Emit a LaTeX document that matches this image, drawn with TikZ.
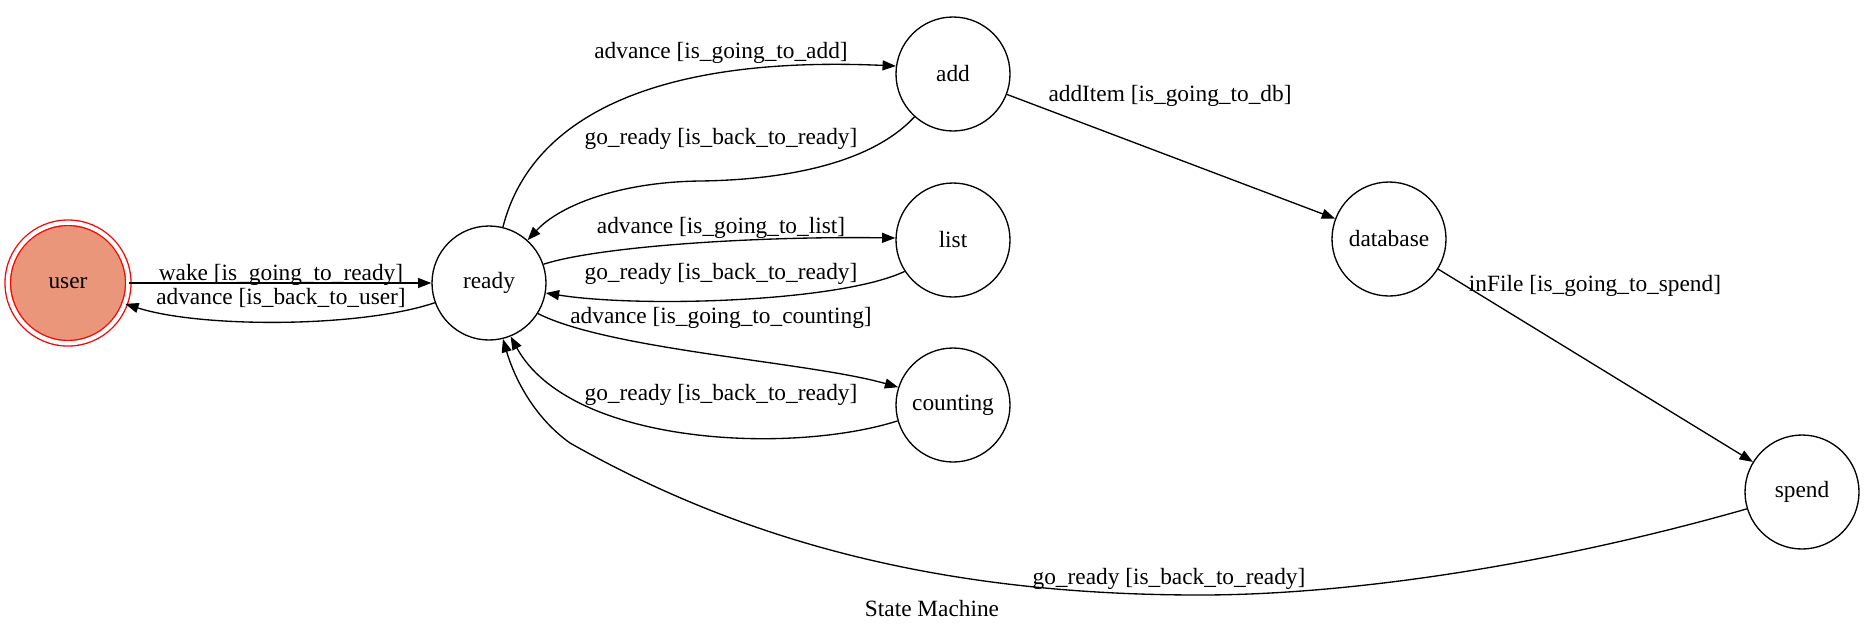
\documentclass[tikz,border=0pt]{standalone}
\usepackage{fontspec}
\setmainfont{Liberation Serif}
\usetikzlibrary{arrows.meta}
\definecolor{usercolor}{RGB}{233, 150, 122}

\begin{document}
\begin{tikzpicture}[
    x=0.6pt, y=-0.6pt,
    state/.style={draw, circle, line width=0.8pt, minimum size=68.4pt, inner sep=1pt, font=\fontsize{14}{17}\selectfont},
    startstate/.style={state, draw=red, fill=usercolor, double=white, double distance=2.5pt, minimum size=72.3pt},
    arrow/.style={-{Triangle[length=8pt, width=6pt]}, line width=0.8pt},
    edgelabel/.style={anchor=base, inner sep=0pt, font=\fontsize{14}{17}\selectfont}
]
\useasboundingbox (0, 0) rectangle (1864, 632);

% States
\node[startstate] (user) at (68, 283) {user};
\node[state] (ready) at (489, 283) {ready};
\node[state] (add) at (953, 74) {add};
\node[state] (list) at (953, 240) {list};
\node[state] (counting) at (953, 405) {counting};
\node[state] (database) at (1389, 239) {database};
\node[state] (spend) at (1802, 492) {spend};

% Transitions
\draw[arrow] (user) -- (ready)
    node[edgelabel] at (281, 280) {wake [is\_going\_to\_ready]};
\draw[arrow] (ready.200) .. controls (360, 328) and (200, 328) .. (user.-20)
    node[edgelabel] at (281, 304) {advance [is\_back\_to\_user]};

\draw[arrow] (ready.76) .. controls (530, 120) and (650, 55) .. (add.172)
    node[edgelabel] at (721, 58) {advance [is\_going\_to\_add]};
\draw[arrow] (add.228) .. controls (870, 165) and (780, 180) .. (700, 181)
    .. controls (620, 182) and (560, 205) .. (ready.48)
    node[edgelabel] at (721, 144) {go\_ready [is\_back\_to\_ready]};

\draw[arrow] (ready.19) .. controls (600, 246) and (760, 236) .. (list.178)
    node[edgelabel] at (721, 233) {advance [is\_going\_to\_list]};
\draw[arrow] (list.213) .. controls (840, 302) and (640, 308) .. (ready.-10)
    node[edgelabel] at (721, 279) {go\_ready [is\_back\_to\_ready]};

\draw[arrow] (ready.-32) .. controls (610, 350) and (810, 362) .. (counting.162)
    node[edgelabel] at (721, 323) {advance [is\_going\_to\_counting]};
\draw[arrow] (counting.196) .. controls (790, 455) and (570, 445) .. (ready.-68)
    node[edgelabel] at (721, 400) {go\_ready [is\_back\_to\_ready]};

\draw[arrow] (add) -- (database)
    node[edgelabel] at (1170, 101) {addItem [is\_going\_to\_db]};
\draw[arrow] (database) -- (spend)
    node[edgelabel] at (1595, 291) {inFile [is\_going\_to\_spend]};

\draw[arrow] (spend.197) .. controls (1550, 565) and (1350, 595) .. (1200, 595)
    .. controls (950, 595) and (750, 545) .. (570, 443)
    .. controls (535, 418) and (515, 380) .. (ready.-76)
    node[edgelabel] at (1169, 584) {go\_ready [is\_back\_to\_ready]};

% Caption
\node[edgelabel] (caption) at (932, 616) {State Machine};

\end{tikzpicture}
\end{document}
